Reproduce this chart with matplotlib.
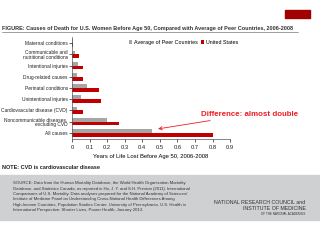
import matplotlib.pyplot as plt
import matplotlib.patches as mpatches
import numpy as np

categorias = [
    "Maternal conditions",
    "Communicable and\nnutritional conditions",
    "Intentional injuries",
    "Drug-related causes",
    "Perinatal conditions",
    "Unintentional injuries",
    "Cardiovascular disease (CVD)",
    "Noncommunicable diseases,\nexcluding CVD",
    "All causes",
]
promedio_pares = [0.003, 0.017, 0.036, 0.026, 0.086, 0.054, 0.028, 0.199, 0.453]
estados_unidos = [0.007, 0.041, 0.064, 0.064, 0.154, 0.163, 0.062, 0.268, 0.803]
ticks_x = [0, 0.1, 0.2, 0.3, 0.4, 0.5, 0.6, 0.7, 0.8, 0.9]

GRIS = '#a6a6a6'
ROJO = '#c00000'
plt.rcParams['font.family'] = ['Liberation Sans', 'DejaVu Sans']

fig = plt.figure(figsize=(3.2, 2.4), dpi=100)
fig.patch.set_facecolor('white')

# titulo y barra decorativa
fig.text(0.006, 0.883, "FIGURE: Causes of Death for U.S. Women Before Age 50, Compared with Average of Peer Countries, 2006-2008",
         fontsize=4.0, fontweight='bold', color='#333333', va='center', ha='left')
fig.add_artist(plt.Line2D([0.006, 0.93], [0.868, 0.868], color='#555555', lw=0.4))
fig.add_artist(mpatches.Rectangle((0.89, 0.925), 0.078, 0.035, color='#a00000', transform=fig.transFigure))

ax = fig.add_axes([0.225, 0.421, 0.494, 0.425])
y = np.arange(len(categorias))[::-1]
alto = 0.34
ax.barh(y + alto / 2, promedio_pares, height=alto, color=GRIS, label='Average of Peer Countries')
ax.barh(y - alto / 2, estados_unidos, height=alto, color=ROJO, label='United States')

ax.set_xlim(0, 0.9)
ax.set_ylim(-0.55, len(categorias) - 0.45)
ax.set_xticks(ticks_x)
ax.set_xticklabels([f"{t:g}" for t in ticks_x], fontsize=4.2)
ax.set_yticks(y)
ax.set_yticklabels(categorias, fontsize=3.5, linespacing=0.95)
ax.tick_params(axis='both', length=2, width=0.5, pad=2, colors='#222222')
ax.tick_params(axis='y', pad=1)
for lado in ['top', 'right']:
    ax.spines[lado].set_visible(False)
for lado in ['left', 'bottom']:
    ax.spines[lado].set_linewidth(0.5)
    ax.spines[lado].set_color('#555555')
ax.set_xlabel("Years of Life Lost Before Age 50, 2006-2008", fontsize=4.2, labelpad=3)

ax.legend(loc='upper left', bbox_to_anchor=(0.33, 1.02), ncol=2, frameon=False,
          fontsize=3.9, handlelength=0.6, handleheight=0.6, handletextpad=0.4, columnspacing=0.5)

ax.annotate("Difference: almost double", xy=(0.49, 0.35), xytext=(0.735, 1.65),
            fontsize=5.7, fontweight='bold', color='#ee1c25', va='center', ha='left',
            arrowprops=dict(arrowstyle='->', color='#ee1c25', lw=0.6, shrinkA=0, shrinkB=0),
            annotation_clip=False)

fig.text(0.006, 0.304, "NOTE: CVD is cardiovascular disease", fontsize=4.0, fontweight='bold',
         color='#222222', va='center')

# recuadro de fuente
fig.add_artist(mpatches.Rectangle((0, 0.083), 1, 0.188, color='#cfd0d2', transform=fig.transFigure, zorder=0))
fuente = ("SOURCE: Data from the Human Mortality Database, the World Health Organization Mortality\n"
          "Database, and Statistics Canada, as reported in Ho, J. Y. and S.H. Preston (2011). International\n"
          "Comparisons of U.S. Mortality. Data analyses prepared for the National Academy of Sciences/\n"
          "Institute of Medicine Panel on Understanding Cross-National Health Differences Among\n"
          "High-Income Countries, Population Studies Center, University of Pennsylvania. U.S. Health in\n"
          "International Perspective: Shorter Lives, Poorer Health, January 2013.")
fig.text(0.04, 0.245, fuente, fontsize=3.1, color='#333333', va='top', ha='left', linespacing=1.45)
fig.text(0.955, 0.158, "NATIONAL RESEARCH COUNCIL and", fontsize=3.8, color='#333333', ha='right', va='center')
fig.text(0.955, 0.133, "INSTITUTE OF MEDICINE", fontsize=3.8, color='#333333', ha='right', va='center')
fig.text(0.955, 0.110, "OF THE NATIONAL ACADEMIES", fontsize=2.2, color='#333333', ha='right', va='center')

fig.savefig('out.png', dpi=100, facecolor='white')
